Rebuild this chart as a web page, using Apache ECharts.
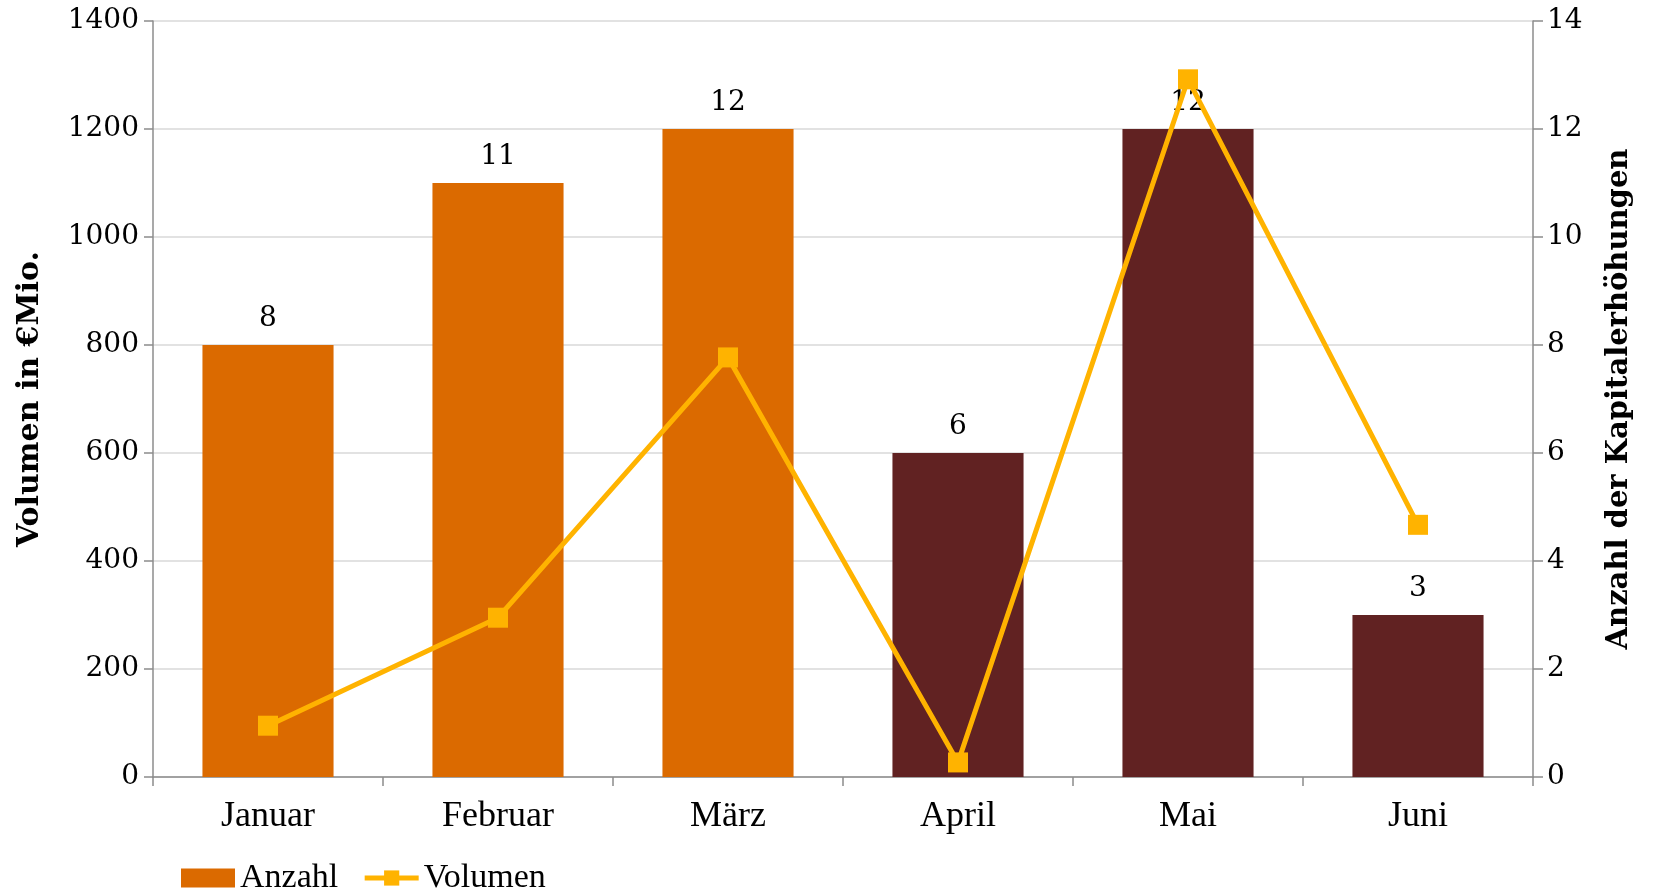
<!DOCTYPE html>
<html>
<head>
<meta charset="utf-8">
<script src="https://cdn.jsdelivr.net/npm/echarts@6/dist/echarts.min.js"></script>
<style>
  html, body { margin: 0; padding: 0; background: #fff; }
  #chart { width: 1653px; height: 889px; }
</style>
</head>
<body>
<div id="chart"></div>
<script>
const months = ['Januar', 'Februar', 'März', 'April', 'Mai', 'Juni']
const anzahl = [8, 11, 12, 6, 12, 3]
const volumen = [95, 295, 777, 27, 1292, 467]
const volumenTicks = [0, 200, 400, 600, 800, 1000, 1200, 1400]
const anzahlTicks = [0, 2, 4, 6, 8, 10, 12, 14]

const orange = '#db6a00'
const maroon = '#612222'
const gold = '#ffb300'
const serif = 'DejaVu Serif'
const times = 'Liberation Serif'
const axisGrey = '#8c8c8c'

const chart = echarts.init(document.getElementById('chart'))

const valueTick = (len) => ({ show: true, inside: false, length: len, lineStyle: { color: axisGrey, width: 1.5 } })

chart.setOption({
  animation: false,
  textStyle: { fontFamily: serif, color: '#000' },
  grid: { left: 153, right: 120, top: 21, bottom: 112 },
  legend: {
    left: 176, top: 856,
    itemWidth: 54, itemHeight: 19, itemGap: 24,
    textStyle: { fontFamily: times, fontSize: 34, color: '#000' },
    data: [
      { name: 'Anzahl', icon: 'rect' },
      { name: 'Volumen', lineStyle: { width: 5, color: gold } },
    ],
  },
  xAxis: {
    type: 'category', data: months,
    axisLine: { lineStyle: { color: axisGrey, width: 1.5 } },
    axisTick: { show: true, length: 9, lineStyle: { color: axisGrey, width: 1.5 } },
    axisLabel: { fontFamily: times, fontSize: 36, color: '#000', margin: 22 },
  },
  yAxis: [
    {
      type: 'value', position: 'left',
      min: volumenTicks[0], max: volumenTicks[volumenTicks.length - 1], interval: 200,
      name: 'Volumen in €Mio.', nameLocation: 'middle', nameGap: 108,
      nameTextStyle: { fontFamily: serif, fontWeight: 'bold', fontSize: 30, color: '#000' },
      axisLine: { show: true, lineStyle: { color: axisGrey, width: 1.5 } },
      axisTick: valueTick(9),
      axisLabel: { fontSize: 28, color: '#000', margin: 14, formatter: (v) => String(v) },
      splitLine: { lineStyle: { color: '#d9d9d9', width: 1.5 } },
    },
    {
      type: 'value', position: 'right',
      min: anzahlTicks[0], max: anzahlTicks[anzahlTicks.length - 1], interval: 2,
      name: 'Anzahl der Kapitalerhöhungen', nameLocation: 'middle', nameGap: 72,
      nameTextStyle: { fontFamily: serif, fontWeight: 'bold', fontSize: 29, color: '#000' },
      axisLine: { show: true, lineStyle: { color: axisGrey, width: 1.5 } },
      axisTick: valueTick(10),
      axisLabel: { fontSize: 28, color: '#000', margin: 14, formatter: (v) => String(v) },
      splitLine: { show: false },
    },
  ],
  series: [
    {
      name: 'Anzahl', type: 'bar', yAxisIndex: 1, barWidth: '57%',
      itemStyle: { color: orange },
      data: anzahl.map((v, i) => ({ value: v, itemStyle: { color: i < 3 ? orange : maroon } })),
      label: { show: true, position: 'top', distance: 12, fontFamily: serif, fontSize: 28, color: '#000' },
      z: 2,
    },
    {
      name: 'Volumen', type: 'line', yAxisIndex: 0, data: volumen,
      symbol: 'rect', symbolSize: 20,
      lineStyle: { color: gold, width: 5 },
      itemStyle: { color: gold },
      z: 3,
    },
  ],
})
</script>
</body>
</html>
